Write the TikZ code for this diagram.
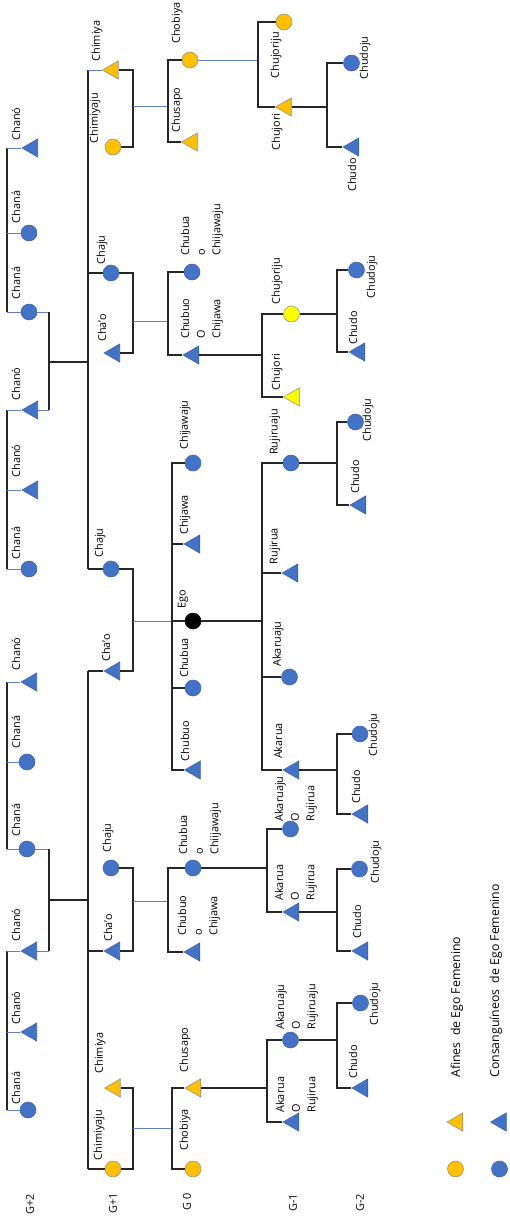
\documentclass[tikz,border=0pt]{standalone}
\usepackage{fontspec}
\setmainfont{Open Sans}
\usetikzlibrary{shapes.geometric}

\definecolor{consblue}{HTML}{4472C4}
\definecolor{afinorange}{HTML}{FFC000}
\definecolor{afinyellow}{HTML}{FFFF00}
\definecolor{lineblue}{HTML}{5B80C6}
\definecolor{lineblack}{HTML}{262626}

\tikzset{
  male/.style={regular polygon, regular polygon sides=3, shape border rotate=90,
    minimum size=0.42cm, inner sep=0pt, fill=consblue, draw=consblue!85!black, line width=0.3pt},
  female/.style={circle, minimum size=0.32cm, inner sep=0pt, fill=consblue,
    draw=consblue!85!black, line width=0.3pt},
  maleaf/.style={male, fill=afinorange, draw=black!45},
  femaleaf/.style={female, fill=afinorange, draw=black!45},
  maleyel/.style={male, fill=afinyellow, draw=black!45},
  femaleyel/.style={female, fill=afinyellow, draw=black!45},
  egonode/.style={female, fill=black, draw=black},
  lbl/.style={rotate=90, inner sep=0pt, font=\fontsize{6.2}{8.9}\selectfont},
  mlbl/.style={lbl, align=left, anchor=west},
  leg/.style={lbl, anchor=west, font=\fontsize{7}{8}\selectfont},
  kin/.style={lineblack, line width=0.7pt},
  wed/.style={lineblue, line width=0.55pt},
}

\begin{document}
\begin{tikzpicture}[x=0.02cm, y=-0.02cm]
\useasboundingbox (0,0) rectangle (510,1218);

% line positions
\coordinate (g2s) at (7,0);
\coordinate (g2c) at (49,0);
\coordinate (g1s) at (88,0);
\coordinate (g1c) at (133,0);
\coordinate (g0s) at (168,0);
\coordinate (g0e) at (172,0);
\coordinate (g1t) at (258,0);
\coordinate (g1m) at (262,0);
\coordinate (g1b) at (267,0);
\coordinate (g2t) at (327,0);
\coordinate (g2m) at (337,0);

% G+2
\node[male] (a1) at (32.5,148) {};
\node[female] (a2) at (29,233) {};
\node[female] (a3) at (29,312) {};
\node[male] (a4) at (32.5,410) {};
\node[male] (a5) at (32.5,490) {};
\node[female] (a6) at (29,569) {};
\node[male] (a7) at (31.5,682) {};
\node[female] (a8) at (27,762) {};
\node[female] (a9) at (27,849) {};
\node[male] (a10) at (31.5,951) {};
\node[male] (a11) at (31.5,1032) {};
\node[female] (a12) at (28,1110) {};
\node[lbl] (a1t) at (16,124) {Chanó};
\node[lbl] (a2t) at (16,207) {Chaná};
\node[lbl] (a3t) at (16,283) {Chaná};
\node[lbl] (a4t) at (16,384) {Chanó};
\node[lbl] (a5t) at (16,461) {Chanó};
\node[lbl] (a6t) at (16,543) {Chaná};
\node[lbl] (a7t) at (16,654) {Chanó};
\node[lbl] (a8t) at (16,732) {Chaná};
\node[lbl] (a9t) at (16,820) {Chaná};
\node[lbl] (a10t) at (16,925) {Chanó};
\node[lbl] (a11t) at (16,1008) {Chanó};
\node[lbl] (a12t) at (16,1088) {Chaná};

\draw[kin] (a1.west -| g2s) -- (a3.west -| g2s);
\draw[kin] (a4.west -| g2s) -- (a6.west -| g2s);
\draw[kin] (a7.west -| g2s) -- (a9.west -| g2s);
\draw[kin] (a10.west -| g2s) -- (a12.west -| g2s);
\draw[wed] (a1.west) -- (a1.west -| g2s);
\draw[wed] (a2.west) -- (a2.west -| g2s);
\draw[wed] (a3.west) -- (a3.west -| g2s);
\draw[wed] (a4.west) -- (a4.west -| g2s);
\draw[wed] (a5.west) -- (a5.west -| g2s);
\draw[wed] (a6.west) -- (a6.west -| g2s);
\draw[wed] (a7.west) -- (a7.west -| g2s);
\draw[wed] (a8.west) -- (a8.west -| g2s);
\draw[wed] (a9.west) -- (a9.west -| g2s);
\draw[wed] (a10.west) -- (a10.west -| g2s);
\draw[wed] (a11.west) -- (a11.west -| g2s);
\draw[wed] (a12.west) -- (a12.west -| g2s);
% couples G+2
\draw[wed] (a3.east) -- (a3.east -| g2c);
\draw[wed] (a4.east) -- (a4.east -| g2c);
\draw[kin] (a3.east -| g2c) -- (a4.east -| g2c);
\draw[wed] (a9.east) -- (a9.east -| g2c);
\draw[wed] (a10.east) -- (a10.east -| g2c);
\draw[kin] (a9.east -| g2c) -- (a10.east -| g2c);
\coordinate (mA) at (49,362);
\coordinate (mB) at (49,900);
\draw[kin] (mA) -- (mA -| g1s);
\draw[kin] (mB) -- (mB -| g1s);

% G+1
\node[maleaf] (b1) at (113,70) {};
\node[femaleaf] (b2) at (113,147) {};
\node[female] (b3) at (111,273) {};
\node[male] (b4) at (114.5,353) {};
\node[female] (b5) at (111,569) {};
\node[male] (b6) at (114.5,671) {};
\node[female] (b7) at (111,868) {};
\node[male] (b8) at (114.5,951) {};
\node[maleaf] (b9) at (115,1088) {};
\node[femaleaf] (b10) at (113,1169) {};
\node[lbl] (b1t) at (97,41) {Chimiya};
\node[lbl] (b2t) at (95,118) {Chimiyaju};
\node[lbl] (b3t) at (102,250) {Chaju};
\node[lbl] (b4t) at (102,328) {Cha’o};
\node[lbl] (b5t) at (100,543) {Chaju};
\node[lbl] (b6t) at (106,648) {Cha’o};
\node[lbl] (b7t) at (108,838) {Chaju};
\node[lbl] (b8t) at (108,928) {Cha’o};
\node[lbl] (b9t) at (100,1053) {Chimiya};
\node[lbl] (b10t) at (99,1135) {Chimiyaju};

\draw[kin] (b1.west -| g1s) -- (b5.west -| g1s);
\draw[wed] (b1.west) -- (b1.west -| g1s);
\draw[kin] (b3.west) -- (b3.west -| g1s);
\draw[kin] (b5.west) -- (b5.west -| g1s);
\draw[kin] (b6.west -| g1s) -- (b10.west -| g1s);
\draw[kin] (b6.west) -- (b6.west -| g1s);
\draw[kin] (b8.west) -- (b8.west -| g1s);
\draw[kin] (b10.west) -- (b10.west -| g1s);
% couples G+1
\draw[kin] (b1.east) -- (b1.east -| g1c) -- (b2.east -| g1c) -- (b2.east);
\draw[kin] (b3.east) -- (b3.east -| g1c) -- (b4.east -| g1c) -- (b4.east);
\draw[kin] (b5.east) -- (b5.east -| g1c) -- (b6.east -| g1c) -- (b6.east);
\draw[kin] (b7.east) -- (b7.east -| g1c) -- (b8.east -| g1c) -- (b8.east);
\draw[kin] (b9.east) -- (b9.east -| g1c) -- (b10.east -| g1c) -- (b10.east);
\coordinate (m1) at (133,106);
\coordinate (m2) at (133,321);
\coordinate (m3) at (133,621);
\coordinate (m4) at (133,901);
\coordinate (m5) at (133,1128);
\draw[wed] (m1) -- (m1 -| g0s);
\draw[wed] (m2) -- (m2 -| g0s);
\draw[wed] (m3) -- (m3 -| g0e);
\draw[wed] (m4) -- (m4 -| g0s);
\draw[wed] (m5) -- (m5 -| g0e);

% G 0
\node[femaleaf] (c1) at (190,60) {};
\node[maleaf] (c2) at (192,142) {};
\node[female] (c3) at (192,272) {};
\node[male] (c4) at (193.5,355) {};
\node[female] (c5) at (193,463) {};
\node[male] (c6) at (194.5,544) {};
\node[egonode] (c7) at (193,621) {};
\node[female] (c8) at (193,688) {};
\node[male] (c9) at (195,770) {};
\node[female] (c10) at (193,868) {};
\node[male] (c11) at (194.5,952) {};
\node[maleaf] (c12) at (195.5,1088) {};
\node[femaleaf] (c13) at (193,1169) {};
\node[lbl] (c1t) at (177,23) {Chobiya};
\node[lbl] (c2t) at (177,110) {Chusapo};
\node[mlbl] (c3t) at (202,256) {Chubua\\o\\Chiijawaju};
\node[mlbl] (c4t) at (202,339) {Chubuo\\O\\Chijawa};
\node[lbl] (c5t) at (185,425) {Chijawaju};
\node[lbl] (c6t) at (185,515) {Chijawa};
\node[lbl] (c7t) at (183,599) {Ego};
\node[lbl] (c8t) at (184,658) {Chubua};
\node[lbl] (c9t) at (185,741) {Chubuo};
\node[mlbl] (c10t) at (200,855) {Chubua\\o\\Chiijawaju};
\node[mlbl] (c11t) at (199,936) {Chubuo\\o\\Chijawa};
\node[lbl] (c12t) at (185,1050) {Chusapo};
\node[lbl] (c13t) at (185,1130) {Chobiya};

\draw[kin] (c1.west) -- (c1.west -| g0s) -- (c2.west -| g0s) -- (c2.west);
\draw[kin] (c3.west) -- (c3.west -| g0s) -- (c4.west -| g0s) -- (c4.west);
\draw[kin] (c5.west) -- (c5.west -| g0e) -- (c9.west -| g0e) -- (c9.west);
\draw[kin] (c6.west) -- (c6.west -| g0e);
\draw[kin] (c7.west) -- (c7.west -| g0e);
\draw[kin] (c8.west) -- (c8.west -| g0e);
\draw[kin] (c10.west) -- (c10.west -| g0s) -- (c11.west -| g0s) -- (c11.west);
\draw[kin] (c12.west) -- (c12.west -| g0e) -- (c13.west -| g0e) -- (c13.west);
% descent to G-1
\draw[wed] (c1.east) -- (c1.east -| g1t);
\draw[kin] (c4.east) -- (c4.east -| g1m);
\draw[kin] (c7.east) -- (c7.east -| g1m);
\draw[kin] (c10.east) -- (c10.east -| g1b);
\draw[kin] (c12.east) -- (c12.east -| g1b);

% G-1
\node[femaleaf] (d1) at (284,22) {};
\node[maleaf] (d2) at (286,107) {};
\node[femaleyel] (d3) at (291.5,314) {};
\node[maleyel] (d4) at (294,397) {};
\node[female] (d5) at (291,463) {};
\node[male] (d6) at (292.5,573) {};
\node[female] (d7) at (289.5,677) {};
\node[male] (d8) at (293.5,770) {};
\node[female] (d9) at (290.5,829) {};
\node[male] (d10) at (293.5,912) {};
\node[female] (d11) at (290.5,1040) {};
\node[male] (d12) at (293.5,1122) {};
\node[lbl] (d1t) at (276,55) {Chujoriju};
\node[lbl] (d2t) at (277,132) {Chujori};
\node[lbl] (d3t) at (277,281) {Chujoriju};
\node[lbl] (d4t) at (277,372) {Chujori};
\node[lbl] (d5t) at (275,432) {Rujiruaju};
\node[lbl] (d6t) at (275,546) {Rujirua};
\node[lbl] (d7t) at (278,644) {Akaruaju};
\node[lbl] (d8t) at (278,741) {Akarua};
\node[mlbl] (d9t) at (296,822) {Akaruaju\\O\\Rujirua};
\node[mlbl] (d10t) at (296,901) {Akarua\\O\\Rujirua};
\node[mlbl] (d11t) at (297,1030) {Akaruaju\\O\\Rujiruaju};
\node[mlbl] (d12t) at (297,1113) {Akarua\\O\\Rujirua};

\draw[kin] (d1.west) -- (d1.west -| g1t) -- (d2.west -| g1t) -- (d2.west);
\draw[kin] (d3.west) -- (d3.west -| g1m) -- (d4.west -| g1m) -- (d4.west);
\draw[kin] (d5.west) -- (d5.west -| g1m) -- (d8.west -| g1m) -- (d8.west);
\draw[kin] (d6.west) -- (d6.west -| g1m);
\draw[kin] (d7.west) -- (d7.west -| g1m);
\draw[kin] (d9.west) -- (d9.west -| g1b) -- (d10.west -| g1b) -- (d10.west);
\draw[kin] (d11.west) -- (d11.west -| g1b) -- (d12.west -| g1b) -- (d12.west);
% descent to G-2
\draw[kin] (d2.east) -- (d2.east -| g2t);
\draw[kin] (d3.east) -- (d3.east -| g2m);
\draw[kin] (d5.east) -- (d5.east -| g2m);
\draw[kin] (d8.east) -- (d8.east -| g2m);
\draw[kin] (d10.east) -- (d10.east -| g2m);
\draw[kin] (d11.east) -- (d11.east -| g2m);

% G-2
\node[female] (e1) at (351.5,63) {};
\node[male] (e2) at (353.5,147) {};
\node[female] (e3) at (356.5,270) {};
\node[male] (e4) at (359.5,352) {};
\node[female] (e5) at (355.5,422) {};
\node[male] (e6) at (360.5,505) {};
\node[female] (e7) at (360,734) {};
\node[male] (e8) at (362.5,814) {};
\node[female] (e9) at (359.5,869) {};
\node[male] (e10) at (362.5,951) {};
\node[female] (e11) at (360.5,1003) {};
\node[male] (e12) at (362.5,1088) {};
\node[lbl] (e1t) at (365,58) {Chudoju};
\node[lbl] (e2t) at (352,175) {Chudo};
\node[lbl] (e3t) at (372,277) {Chudoju};
\node[lbl] (e4t) at (353,328) {Chudo};
\node[lbl] (e5t) at (368,420) {Chudoju};
\node[lbl] (e6t) at (355,477) {Chudo};
\node[lbl] (e7t) at (374,735) {Chudoju};
\node[lbl] (e8t) at (356,787) {Chudo};
\node[lbl] (e9t) at (376,862) {Chudoju};
\node[lbl] (e10t) at (357,922) {Chudo};
\node[lbl] (e11t) at (375,1004) {Chudoju};
\node[lbl] (e12t) at (353,1062) {Chudo};

\draw[kin] (e1.west) -- (e1.west -| g2t) -- (e2.west -| g2t) -- (e2.west);
\draw[kin] (e3.west) -- (e3.west -| g2m) -- (e4.west -| g2m) -- (e4.west);
\draw[kin] (e5.west) -- (e5.west -| g2m) -- (e6.west -| g2m) -- (e6.west);
\draw[kin] (e7.west) -- (e7.west -| g2m) -- (e8.west -| g2m) -- (e8.west);
\draw[kin] (e9.west) -- (e9.west -| g2m) -- (e10.west -| g2m) -- (e10.west);
\draw[kin] (e11.west) -- (e11.west -| g2m) -- (e12.west -| g2m) -- (e12.west);

% generations
\node[lbl] (gp2) at (30,1204) {G+2};
\node[lbl] (gp1) at (113,1203) {G+1};
\node[lbl] (g0) at (187,1202) {G 0};
\node[lbl] (gm1) at (293,1203) {G-1};
\node[lbl] (gm2) at (360,1203) {G-2};

% legend
\node[femaleaf] (lg1) at (455.5,1169) {};
\node[maleaf] (lg2) at (457.5,1122) {};
\node[female] (lg3) at (499.5,1169) {};
\node[male] (lg4) at (501,1122) {};
\node[leg] (lg2t) at (457,1078) {Afines\ \ de Ego Femenino};
\node[leg] (lg4t) at (496,1078) {Consanguíneos\ \ de Ego Femenino};
\end{tikzpicture}
\end{document}
